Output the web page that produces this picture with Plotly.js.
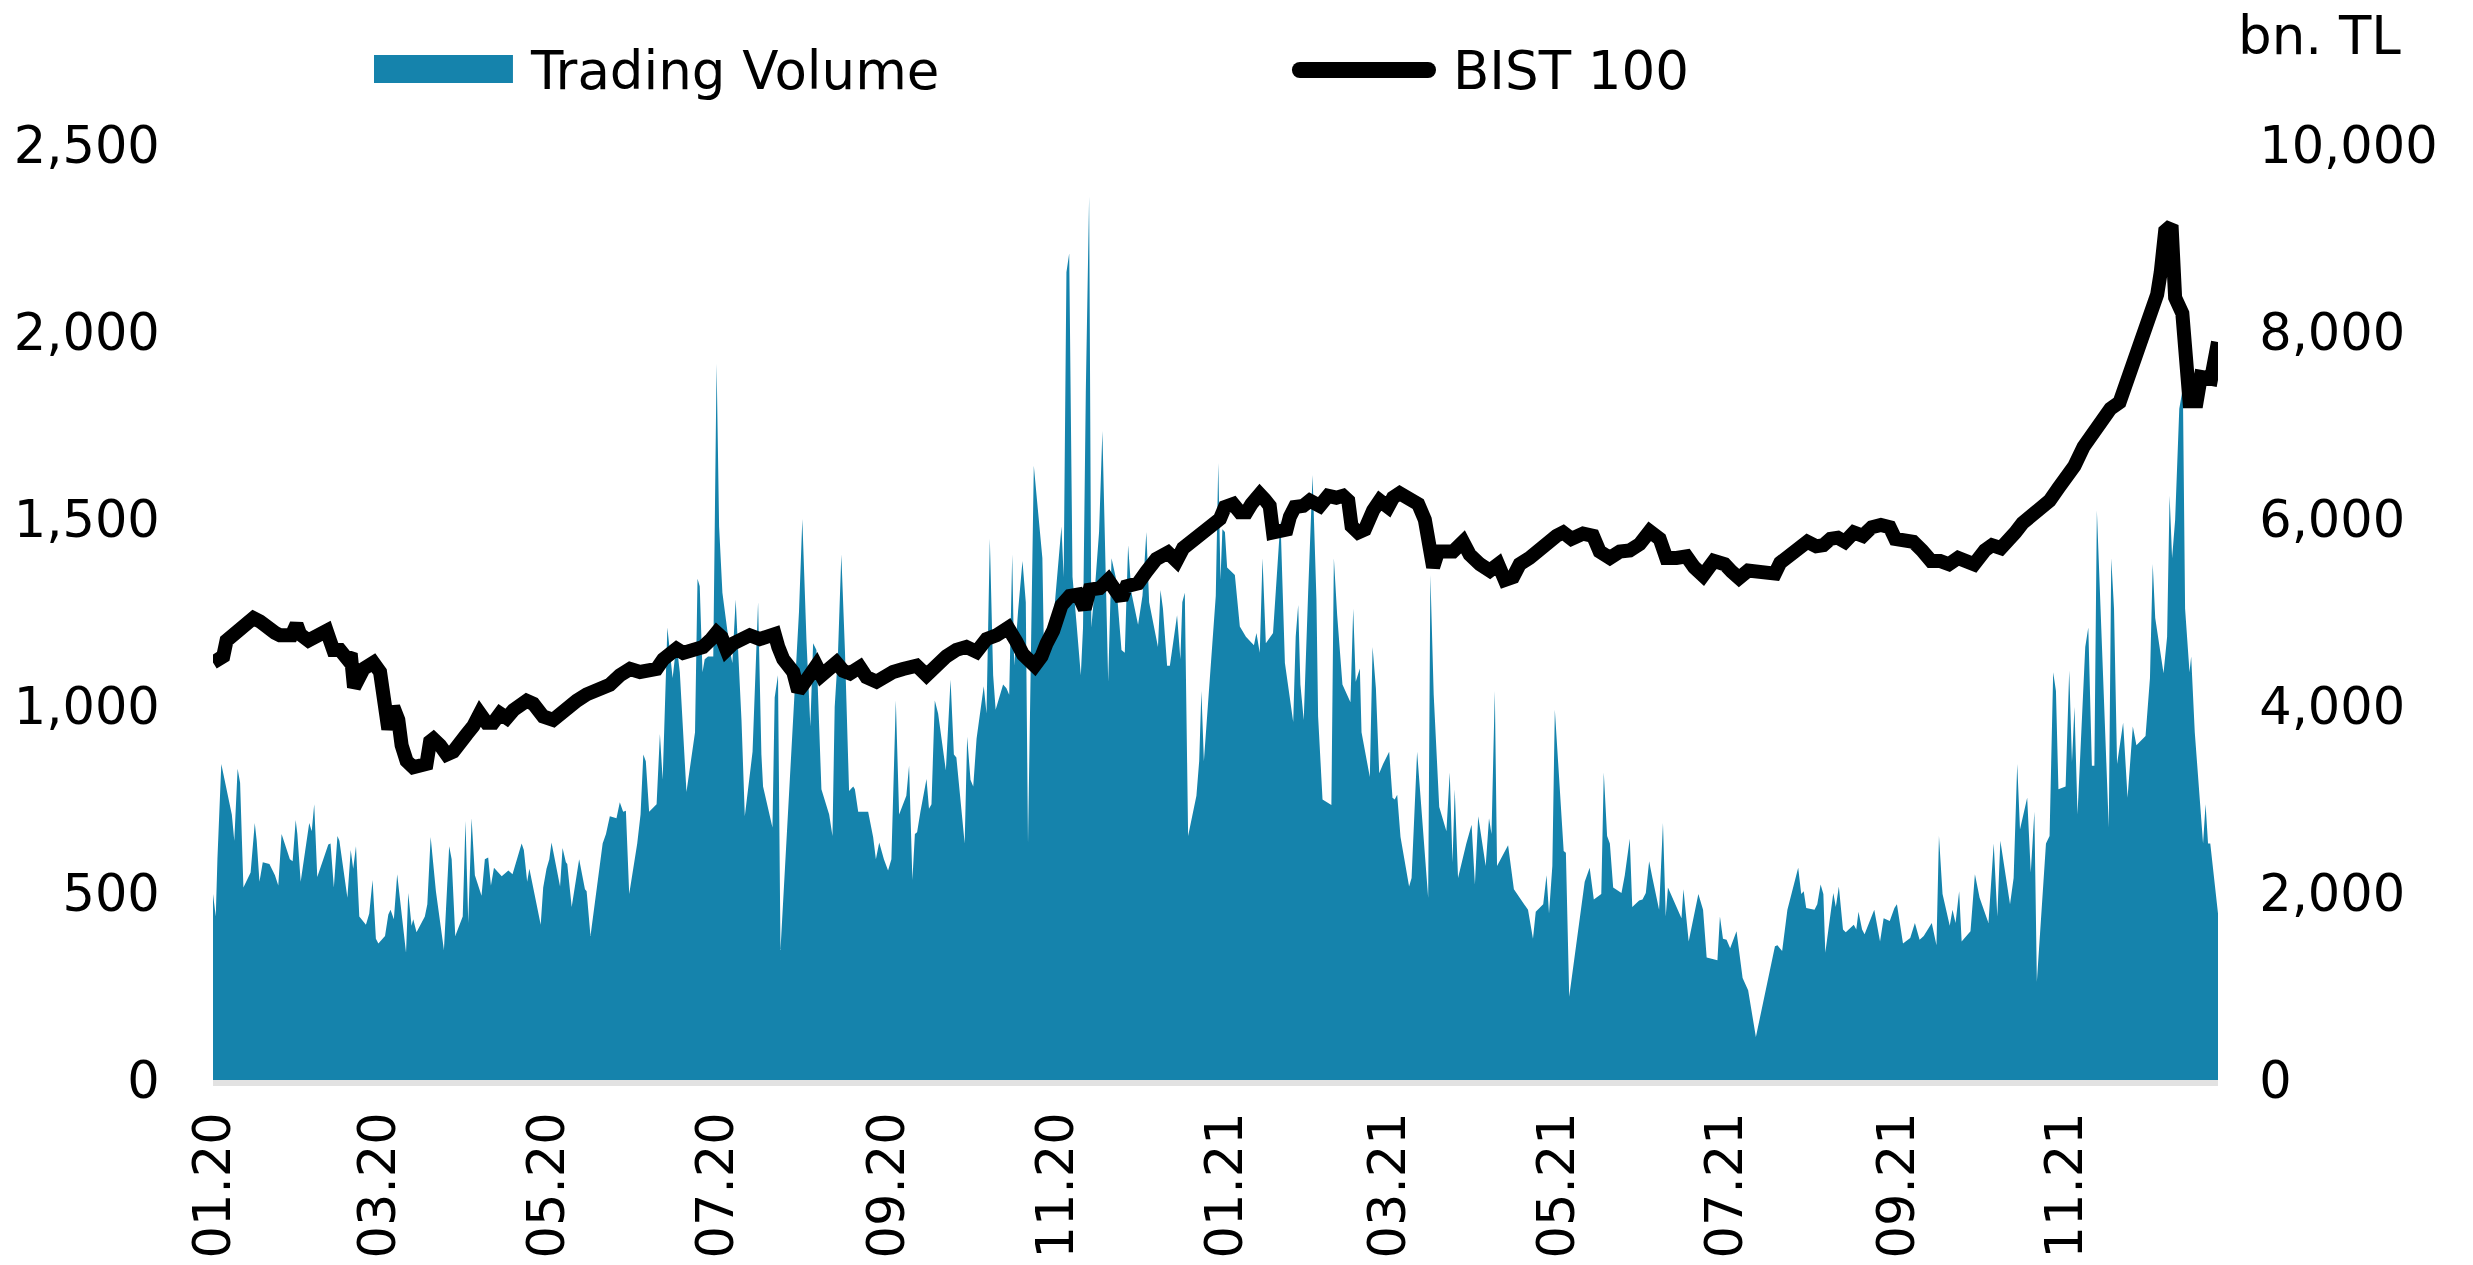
<!DOCTYPE html>
<html>
<head>
<meta charset="utf-8">
<script src="https://cdn.plot.ly/plotly-3.0.1.min.js"></script>
<style>html,body{margin:0;padding:0;background:#fff;}#chart{width:2473px;height:1265px;}</style>
</head>
<body>
<div id="chart"></div>
<script>
// Days since 2020-01-01 and daily trading volume (bn. TL, right axis)
const volumeDay = [
 0,1,1.6,3.0,4.9,6.8,7.7,8.9,9.8,11.0,
 13.6,15.1,15.8,16.8,18.0,20.4,22.4,23.6,24.8,27.8,
 28.8,29.9,30.5,31.7,34.8,35.7,36.6,37.7,41.7,42.5,
 43.7,45.0,45.7,48.6,49.8,50.7,51.7,52.9,55.3,56.5,
 57.7,58.9,59.8,62.2,63.4,64.2,65.4,66.6,69.8,70.6,
 71.8,72.4,73.6,76.6,77.5,78.7,80.6,83.5,85.4,86.3,
 87.6,90.3,91.3,92.3,93.5,94.7,97.1,98.3,99.5,100.5,
 101.6,104.4,106.8,108.3,111.6,112.4,113.6,114.4,118.5,119.4,
 120.6,121.6,122.4,125.5,126.4,127.6,128.1,129.7,132.4,134.5,
 135.1,136.5,140.9,142.1,143.5,145.9,147.1,148.3,149.3,150.5,
 153.4,154.6,155.6,156.5,157.7,160.4,161.6,162.6,164.3,166.2,
 167.6,168.8,171.2,174.3,175.2,176.0,177.0,177.8,179.0,180.9,
 182.1,183.0,184.2,185.7,186.9,187.8,189.0,191.1,192.3,195.1,
 197.1,198.3,198.9,202.3,203.1,204.3,205.2,211.9,213.1,214.6,
 216.0,217.0,218.2,220.0,222.8,224.0,224.8,226.0,227.2,228.5,
 230.0,231.5,232.1,233.3,236.9,238.7,239.7,240.9,242.6,244.1,
 245.3,246.9,248.1,250.7,251.7,252.9,253.8,254.6,255.8,258.0,
 258.9,259.8,261.0,262.2,265.0,266.7,267.9,268.8,271.8,272.7,
 273.9,274.9,276.1,278.7,279.7,280.9,282.1,283.0,285.7,286.9,
 287.9,289.0,289.7,291.1,292.7,293.9,294.7,296.8,299.9,300.4,
 302.6,304.0,306.8,307.6,308.6,309.6,310.8,312.2,313.8,314.6,
 315.6,316.8,317.6,319.2,320.4,321.6,323.7,324.9,326.4,328.5,
 329.7,330.9,332.1,334.5,336.1,337.5,338.5,341.7,342.6,343.5,
 345.0,346.0,348.6,349.8,350.5,351.4,352.6,355.6,356.6,357.4,
 358.3,362.6,363.5,364.3,365.0,365.9,366.7,369.5,371.3,373.5,
 376.4,377.3,378.5,379.5,380.7,383.3,384.8,386.0,387.6,390.6,
 391.5,392.4,393.2,394.4,396.0,397.6,399.0,399.6,401.2,404.4,
 405.3,406.5,408.4,411.3,412.3,413.2,414.7,415.3,418.3,419.3,
 420.5,421.7,423.1,425.3,426.5,427.3,428.2,429.4,432.5,433.4,
 435.4,437.3,439.4,440.2,441.4,443.4,446.0,447.2,448.2,449.0,
 450.2,453.2,455.1,456.3,457.5,460.2,461.4,462.3,463.5,464.3,
 468.3,470.4,474.3,475.5,477.3,478.3,481.0,482.2,483.1,484.3,
 485.2,487.0,488.4,489.2,490.4,496.0,497.8,499.3,502.0,502.9,
 504.1,505.1,506.3,509.3,510.5,512.3,513.2,515.7,516.9,518.1,
 519.3,520.5,522.9,524.3,525.3,526.1,527.7,529.8,531.0,531.7,
 533.6,537.1,538.8,540.1,544.0,544.9,546.0,547.3,548.6,550.9,
 553.1,555.1,557.9,564.8,565.7,567.4,569.3,573.2,574.3,575.2,
 576.1,579.1,580.1,581.3,582.3,583.0,585.9,586.8,587.9,589.4,
 590.4,593.3,594.2,595.0,596.3,597.2,600.7,602.8,604.1,606.3,
 608.0,608.9,611.1,613.7,615.4,617.1,618.6,621.5,623.2,624.1,
 625.4,628.0,629.0,630.1,631.4,632.3,635.5,637.1,638.8,642.0,
 643.9,645.2,646.3,649.8,651.1,652.4,653.4,656.0,657.3,658.6,
 659.5,662.8,664.1,665.4,666.4,667.3,669.9,671.2,672.2,673.1,
 674.2,677.0,678.1,679.4,680.3,681.2,685.5,686.4,687.4,688.5,
 690.7,692.3,694.2,695.5,698.8,700.4,701.4,702.3,705.3,706.6,
 707.5,708.4,709.5,711.0,712.3,713.1,714.7,715.3,716.6,719.6,
 720.5,721.4,722.2,725.0
];
const volumeValue = [
 1990,1750,2360,3380,3110,2840,2560,3330,3180,2060,
 2220,2750,2560,2120,2330,2310,2190,2080,2630,2360,
 2340,2780,2630,2120,2750,2660,2950,2170,2520,2530,
 2060,2610,2560,1950,2460,2260,2500,1750,1660,1780,
 2140,1510,1460,1540,1770,1820,1720,2200,1360,2000,
 1650,1720,1580,1750,1880,2600,2020,1390,2500,2360,
 1540,1750,2770,1680,2800,2190,1970,2360,2380,2080,
 2270,2180,2240,2200,2530,2460,2120,2260,1660,2060,
 2260,2360,2540,2070,2480,2330,2310,1850,2360,2040,
 2020,1540,2530,2630,2820,2800,2970,2870,2880,1990,
 2530,2840,3480,3410,2870,2950,3700,3210,4840,4300,
 4670,4360,3080,3720,5360,5280,4360,4500,4530,4530,
 7660,5920,5210,4840,4600,4460,5140,3850,2820,3510,
 5110,3480,3140,2700,4090,4330,1390,5010,6000,4700,
 3780,4670,4600,3110,2840,2610,3990,4570,5620,4600,
 3090,3140,3110,2870,2870,2600,2360,2540,2360,2240,
 2360,4060,2840,3040,3360,2140,2630,2650,2870,3220,
 2900,2950,4060,3920,3310,4280,3480,3450,2530,3670,
 3210,3140,3650,4210,3920,5790,4330,3960,4230,4190,
 4120,5620,4430,5010,5550,5110,2530,6570,5580,4700,
 4900,4960,5920,5380,8640,8840,5380,4900,4330,4840,
 7350,9450,4840,5380,5860,6940,4260,5580,5380,4600,
 4570,5720,5210,4870,5180,5860,5110,4630,5240,5040,
 4430,4430,4970,4500,5110,5210,2610,3040,3410,4160,
 3410,5180,6600,5350,5890,5860,5480,5400,4850,4740,
 4650,4780,4570,5580,4670,4780,5520,5990,4460,3830,
 4740,5080,4230,3850,5210,6470,5140,3890,3000,2940,
 5580,4970,4230,4040,5040,4260,4400,3720,3240,4630,
 4190,3280,3380,3510,3020,3000,3050,2600,2070,2160,
 3510,2730,1950,5400,4120,2920,2660,3290,2330,3110,
 2160,2530,2730,2090,2820,2290,2800,2630,4160,2290,
 2510,2040,1880,1820,1510,1800,1880,2190,1780,2290,
 3960,3040,2450,2430,890,2120,2270,1930,1990,3290,
 2610,2530,2060,2000,2190,2580,1850,1920,1930,2000,
 2340,2160,1820,2750,1750,2060,1950,1820,1730,2040,
 1480,1990,1820,1310,1280,1750,1510,1500,1410,1590,
 1090,960,460,1430,1440,1380,1820,2270,1990,2020,
 1840,1820,1880,2090,1990,1360,2000,1850,2070,1610,
 1580,1660,1610,1800,1610,1560,1820,1480,1730,1700,
 1840,1880,1460,1520,1680,1500,1540,1680,1440,2610,
 1990,1650,1820,1680,2020,1480,1590,2200,1950,1680,
 2530,1750,2560,1880,2160,3380,2680,3020,2220,2870,
 1050,2530,2610,4360,4160,3110,3140,4380,3400,3990,
 2840,4630,4840,3360,3360,6090,2700,5580,5040,3380,
 3820,3020,3780,3580,3680,4300,5520,4940,4350,4740,
 6250,5580,5990,7180,7400,5040,4360,4530,3720,2530,
 2950,2530,2530,1780
];

// Days since 2020-01-01 and BIST 100 index level (left axis)
const bistDay = [
 0,3.7,4.9,6.1,9.2,11.0,14.6,17.0,19.4,22.4,
 24.2,28.4,30.2,31.5,34.5,36.3,38.7,41.1,42.3,43.5,
 45.9,48.3,49.8,51.0,54.4,58.0,60.4,61.6,63.4,65.2,
 67.0,68.2,70.0,72.4,74.8,77.2,78.5,79.7,82.1,84.5,
 86.9,89.3,91.7,94.1,96.5,98.9,101.3,103.8,106.2,108.6,
 111.0,113.4,115.8,119.4,123.0,125.4,127.9,131.5,135.1,139.9,
 143.5,147.1,150.8,154.4,158.0,160.4,162.8,165.2,167.6,170.0,
 172.5,175.5,177.2,180.2,182.1,183.9,185.7,188.1,190.5,194.1,
 197.7,200.7,203.1,204.4,206.2,209.8,211.6,213.4,215.8,218.2,
 220.0,223.0,225.4,227.9,230.3,233.9,236.3,239.9,242.3,245.9,
 249.5,254.4,258.0,261.6,265.2,268.8,272.4,276.1,279.7,283.3,
 287.5,290.5,292.9,297.1,299.6,301.4,303.8,306.8,309.8,312.8,
 315.2,317.0,320.6,323.7,325.5,328.5,330.3,334.5,337.5,341.1,
 345.3,348.4,350.8,354.4,357.0,359.2,362.3,364.1,365.9,368.9,
 371.3,373.7,375.5,378.5,380.3,382.1,383.3,385.8,388.2,389.4,
 391.2,394.2,396.6,400.2,403.2,406.2,408.6,410.5,411.7,414.1,
 416.5,419.5,421.9,424.9,426.7,429.1,432.8,435.8,438.2,440.0,
 441.2,443.0,446.0,448.4,452.0,454.4,458.1,461.7,464.7,467.1,
 470.1,472.5,476.1,479.8,482.2,485.8,488.2,491.2,495.4,499.0,
 501.4,505.1,508.7,512.3,515.9,519.5,523.1,525.5,529.2,532.8,
 535.6,538.8,542.7,546.6,549.2,551.8,555.1,558.3,564.8,566.7,
 570.0,573.2,576.5,579.7,582.3,584.9,587.5,590.1,593.3,596.6,
 599.8,603.1,606.3,608.3,611.5,614.8,618.0,621.2,624.5,627.7,
 631.0,634.2,636.8,640.7,643.3,646.5,649.1,651.7,654.3,656.9,
 660.2,664.1,667.3,670.6,673.1,676.4,679.6,682.9,686.1,689.4,
 692.8,695.2,697.8,700.4,703.0,704.3,705.9,708.2,709.5,712.1,
 713.4,714.7,717.3,718.8,722.5,725.0
];
const bistValue = [
 1116,1133,1175,1184,1201,1209,1235,1226,1209,1196,
 1189,1189,1218,1192,1175,1184,1196,1201,1175,1150,
 1150,1128,1140,1050,1099,1116,1091,1006,938,997,
 963,895,853,836,836,845,905,912,895,870,
 878,895,924,946,980,955,955,980,968,989,
 1006,1014,1006,972,963,980,997,1014,1031,1048,
 1057,1082,1099,1091,1094,1099,1125,1145,1153,1142,
 1150,1160,1158,1179,1196,1184,1150,1167,1179,1189,
 1179,1189,1192,1158,1125,1091,1040,1057,1091,1108,
 1082,1099,1116,1094,1087,1104,1077,1065,1077,1091,
 1099,1108,1082,1111,1133,1150,1158,1145,1179,1189,
 1209,1172,1138,1108,1133,1167,1201,1269,1294,1298,
 1260,1311,1315,1337,1311,1286,1320,1328,1359,1393,
 1410,1388,1422,1444,1455,1470,1485,1500,1532,1540,
 1518,1518,1540,1566,1552,1535,1464,1464,1472,1506,
 1532,1535,1549,1535,1562,1557,1562,1549,1481,1464,
 1472,1523,1549,1532,1557,1569,1557,1540,1498,1388,
 1371,1413,1413,1413,1439,1405,1379,1362,1379,1337,
 1345,1379,1396,1422,1433,1455,1464,1447,1461,1455,
 1413,1396,1413,1416,1433,1467,1447,1396,1396,1400,
 1371,1349,1388,1379,1359,1342,1362,1359,1354,1383,
 1400,1427,1439,1427,1430,1447,1450,1439,1464,1455,
 1478,1484,1478,1447,1447,1439,1416,1388,1388,1379,
 1396,1388,1379,1416,1430,1422,1439,1464,1489,1506,
 1528,1549,1583,1617,1642,1693,1727,1769,1795,1812,
 1888,1931,1998,2058,2100,2160,2270,2285,2092,2050,
 1880,1815,1815,1880,1875,1973
];

const tickDates = ['2020-01-01','2020-03-01','2020-05-01','2020-07-01','2020-09-01','2020-11-01',
                   '2021-01-01','2021-03-01','2021-05-01','2021-07-01','2021-09-01','2021-11-01'];
const leftTicks = [0, 500, 1000, 1500, 2000, 2500];
const rightTicks = [0, 2000, 4000, 6000, 8000, 10000];
const seriesNames = ['Trading Volume', 'BIST 100'];
const unitLabel = 'bn. TL';

const BLUE = '#1583AC';
const FONT = 'DejaVu Sans, Verdana, sans-serif';

function dayToDate(d) {
  const ms = Date.UTC(2020, 0, 1) + d * 86400000;
  return new Date(ms).toISOString().slice(0, 19).replace('T', ' ');
}

const volumeTrace = {
  type: 'scatter', mode: 'lines', name: seriesNames[0],
  x: volumeDay.map(dayToDate), y: volumeValue,
  xaxis: 'x', yaxis: 'y',
  fill: 'tozeroy', fillcolor: BLUE,
  line: {color: BLUE, width: 0},
  hoverinfo: 'skip'
};
const bistTrace = {
  type: 'scatter', mode: 'lines', name: seriesNames[1],
  x: bistDay.map(dayToDate), y: bistValue,
  xaxis: 'x', yaxis: 'y2',
  line: {color: '#000000', width: 14},
  hoverinfo: 'skip'
};

const ly = 1.0802;
const tickFont = {family: FONT, size: 51, color: '#000'};
const annFont = {family: FONT, size: 53, color: '#000'};
const layout = {
  width: 2473, height: 1265,
  margin: {l: 213, r: 255, t: 145, b: 185, pad: 0},
  paper_bgcolor: '#ffffff', plot_bgcolor: '#ffffff',
  font: {family: FONT, size: 51, color: '#000000'},
  showlegend: false,
  xaxis: {
    type: 'date',
    range: [dayToDate(0), dayToDate(725)],
    tickvals: tickDates, tickformat: '%m.%y', tickangle: -90,
    showgrid: false, zeroline: false,
    showline: true, linecolor: '#E2E2E2', linewidth: 6,
    ticks: 'outside', ticklen: 6, tickcolor: 'rgba(0,0,0,0)',
    tickfont: tickFont
  },
  yaxis: {
    range: [0, 10000], side: 'right',
    tickvals: rightTicks, tickformat: ',d',
    showgrid: false, zeroline: false, showline: false,
    ticks: 'outside', ticklen: 30, tickcolor: 'rgba(0,0,0,0)',
    tickfont: tickFont
  },
  yaxis2: {
    range: [0, 2500], side: 'left', overlaying: 'y',
    tickvals: leftTicks, tickformat: ',d',
    showgrid: false, zeroline: false, showline: false,
    ticks: 'outside', ticklen: 42, tickcolor: 'rgba(0,0,0,0)',
    tickfont: tickFont
  },
  shapes: [
    {type: 'rect', xref: 'paper', yref: 'paper', x0: 0.0803, x1: 0.1496, y0: 1.0663, y1: 1.0963,
     fillcolor: BLUE, line: {width: 0}},
    {type: 'line', xref: 'paper', yref: 'paper', x0: 0.5421, x1: 0.6060, y0: ly, y1: ly,
     line: {color: '#000', width: 16}},
    {type: 'circle', xref: 'paper', yref: 'paper', xsizemode: 'pixel', ysizemode: 'pixel',
     xanchor: 0.5421, yanchor: ly, x0: -8, x1: 8, y0: -8, y1: 8, fillcolor: '#000', line: {width: 0}},
    {type: 'circle', xref: 'paper', yref: 'paper', xsizemode: 'pixel', ysizemode: 'pixel',
     xanchor: 0.6060, yanchor: ly, x0: -8, x1: 8, y0: -8, y1: 8, fillcolor: '#000', line: {width: 0}}
  ],
  annotations: [
    {text: seriesNames[0], xref: 'paper', yref: 'paper', x: 0.1571, y: ly,
     xanchor: 'left', yanchor: 'middle', showarrow: false, font: annFont},
    {text: seriesNames[1], xref: 'paper', yref: 'paper', x: 0.6175, y: ly,
     xanchor: 'left', yanchor: 'middle', showarrow: false, font: annFont},
    {text: unitLabel, xref: 'paper', yref: 'paper', x: 1.0923, y: 1.1166,
     xanchor: 'right', yanchor: 'middle', showarrow: false, font: annFont}
  ]
};

if (volumeDay.length !== volumeValue.length || bistDay.length !== bistValue.length) {
  console.error('length mismatch', volumeDay.length, volumeValue.length, bistDay.length, bistValue.length);
}

Plotly.newPlot('chart', [volumeTrace, bistTrace], layout, {displayModeBar: false, staticPlot: true});
</script>
</body>
</html>
